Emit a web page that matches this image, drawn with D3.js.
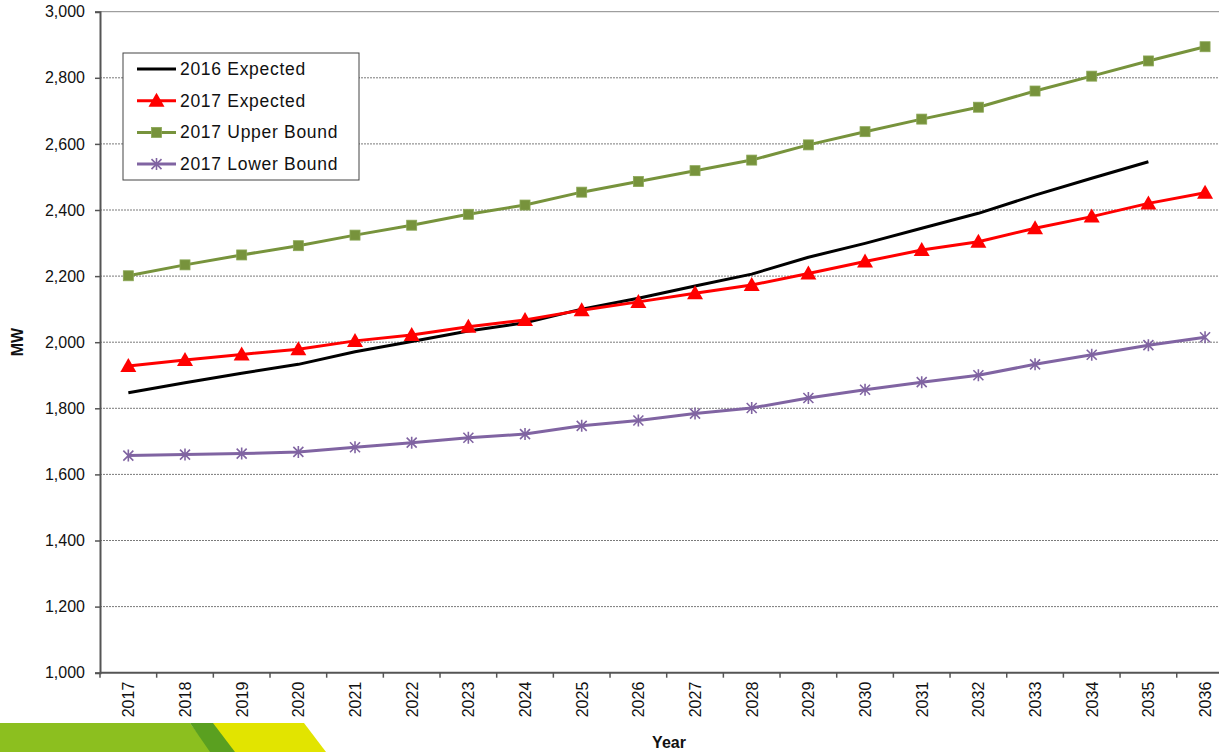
<!DOCTYPE html>
<html>
<head>
<meta charset="utf-8">
<script src="https://cdn.jsdelivr.net/npm/d3@7"></script>
<style>
  body { margin: 0; background: #fff; }
  svg text { font-family: Arial, "Liberation Sans", sans-serif; fill: #111; }
</style>
</head>
<body>
<div class="svg-container"></div>
<script>
const years = ['2017','2018','2019','2020','2021','2022','2023','2024','2025','2026',
  '2027','2028','2029','2030','2031','2032','2033','2034','2035','2036'];

// 2016 forecast stops at 2035
const expected2016 = [1847, 1877, 1906, 1933, 1971, 2002, 2034, 2059, 2100, 2133,
  2170, 2206, 2257, 2299, 2345, 2390, 2445, 2496, 2546];
const expected2017 = [1928, 1946, 1963, 1979, 2004, 2022, 2047, 2067, 2097, 2122,
  2148, 2173, 2208, 2244, 2279, 2304, 2345, 2380, 2420, 2452];
const upper2017 = [2201, 2234, 2264, 2292, 2324, 2354, 2387, 2415, 2454, 2486,
  2519, 2551, 2597, 2637, 2675, 2711, 2760, 2805, 2851, 2894];
const lower2017 = [1657, 1660, 1663, 1668, 1682, 1696, 1711, 1722, 1747, 1763,
  1784, 1801, 1831, 1856, 1879, 1900, 1933, 1962, 1991, 2015];

const yTicks = [1000, 1200, 1400, 1600, 1800, 2000, 2200, 2400, 2600, 2800, 3000];

const seriesList = [
  { name: '2016 Expected', values: expected2016, color: '#000000', marker: 'none' },
  { name: '2017 Expected', values: expected2017, color: '#ff0000', marker: 'triangle' },
  { name: '2017 Upper Bound', values: upper2017, color: '#77933c', marker: 'square' },
  { name: '2017 Lower Bound', values: lower2017, color: '#8064a2', marker: 'star' }
];

const width = 1219;
const height = 752;
const margin = { left: 100, top: 11.7, right: 0, bottom: 80 };
const plotBottom = 672.7;

const svg = d3.select('.svg-container')
  .append('svg')
  .attr('width', width)
  .attr('height', height);

const xScale = d3.scaleBand()
  .domain(years)
  .range([margin.left, margin.left + 20 * 56.67]);

const yScale = d3.scaleLinear()
  .domain([1000, 3000])
  .range([plotBottom, margin.top]);

const cx = d => xScale(d) + xScale.bandwidth() / 2;

// decorative banner, bottom left
const banner = svg.append('g');
banner.append('path').attr('d', 'M0,723 L190,723 L212,752 L0,752 Z').attr('fill', '#8cbf1f');
banner.append('path').attr('d', 'M190,723 L214,723 L236,752 L210,752 Z').attr('fill', '#5aa020');
banner.append('path').attr('d', 'M213,723 L304,723 L326,752 L235,752 Z').attr('fill', '#e2e400');

// gridlines
svg.append('g')
  .selectAll('line')
  .data(yTicks.filter(d => d > 1000))
  .enter()
  .append('line')
  .attr('x1', margin.left)
  .attr('x2', width)
  .attr('y1', d => yScale(d))
  .attr('y2', d => yScale(d))
  .attr('stroke', d => d === 3000 ? '#888' : '#7a7a7a')
  .attr('stroke-width', 1)
  .attr('stroke-dasharray', d => d === 3000 ? null : '2,1');

// axes
const yAxis = d3.axisLeft(yScale)
  .tickValues(yTicks)
  .tickSize(5)
  .tickPadding(10)
  .tickFormat(d3.format(','));

const yAxisG = svg.append('g')
  .attr('transform', `translate(${margin.left}, 0)`)
  .call(yAxis);
yAxisG.select('.domain').attr('stroke', '#555').attr('stroke-width', 2);
yAxisG.selectAll('.tick line').attr('stroke', '#555').attr('stroke-width', 1.5);
yAxisG.selectAll('.tick text').style('font-size', '16px').attr('fill', '#111');

const xAxisG = svg.append('g')
  .attr('transform', `translate(0, ${plotBottom})`);
xAxisG.append('line')
  .attr('x1', margin.left).attr('x2', width)
  .attr('stroke', '#555').attr('stroke-width', 2);
xAxisG.selectAll('.tk')
  .data(years)
  .enter()
  .append('line')
  .attr('x1', d => xScale(d)).attr('x2', d => xScale(d))
  .attr('y1', 0).attr('y2', 5)
  .attr('stroke', '#555').attr('stroke-width', 1.5);
xAxisG.selectAll('.lbl')
  .data(years)
  .enter()
  .append('text')
  .text(d => d)
  .attr('transform', d => `translate(${cx(d) + 6}, 9) rotate(-90)`)
  .attr('text-anchor', 'end')
  .style('font-size', '16px');

// axis titles
svg.append('text')
  .text('MW')
  .attr('transform', `translate(23, 342) rotate(-90)`)
  .attr('text-anchor', 'middle')
  .style('font-size', '16px')
  .style('font-weight', 'bold');

svg.append('text')
  .text('Year')
  .attr('x', 669)
  .attr('y', 748)
  .attr('text-anchor', 'middle')
  .style('font-size', '16px')
  .style('font-weight', 'bold');

// markers
const drawMarker = (g, type, color) => {
  if (type === 'triangle') {
    g.append('path').attr('d', 'M0,-8 L8,6 L-8,6 Z').attr('fill', color);
  } else if (type === 'square') {
    g.append('rect').attr('x', -5).attr('y', -5).attr('width', 10).attr('height', 10)
      .attr('fill', color).attr('stroke', '#8aa655').attr('stroke-width', 0.8);
  } else if (type === 'star') {
    g.append('path').attr('d', 'M-5,-5 L5,5 M-5,5 L5,-5 M0,-6 L0,6')
      .attr('stroke', color).attr('stroke-width', 1.6).attr('fill', 'none');
  }
};

const line = d3.line()
  .x((d, i) => cx(years[i]))
  .y(d => yScale(d));

seriesList.forEach(s => {
  svg.append('path')
    .datum(s.values)
    .attr('d', line)
    .attr('fill', 'none')
    .attr('stroke', s.color)
    .attr('stroke-width', 3)
    .attr('stroke-linejoin', 'round');

  if (s.marker !== 'none') {
    s.values.forEach((v, i) => {
      const g = svg.append('g').attr('transform', `translate(${cx(years[i])}, ${yScale(v)})`);
      drawMarker(g, s.marker, s.color);
    });
  }
});

// legend
const legend = svg.append('g').attr('id', 'legend');
legend.append('rect')
  .attr('x', 123).attr('y', 53)
  .attr('width', 236).attr('height', 127)
  .attr('fill', '#fff')
  .attr('stroke', '#444')
  .attr('stroke-width', 1);

seriesList.forEach((s, i) => {
  const y = 69 + i * 31.7;
  legend.append('line')
    .attr('x1', 137).attr('x2', 176)
    .attr('y1', y).attr('y2', y)
    .attr('stroke', s.color).attr('stroke-width', 3);
  const g = legend.append('g').attr('transform', `translate(156.5, ${y})`);
  drawMarker(g, s.marker, s.color);
  legend.append('text')
    .text(s.name)
    .attr('x', 180)
    .attr('y', y + 6)
    .style('font-size', '17.5px')
    .style('letter-spacing', '0.7px');
});
</script>
</body>
</html>
